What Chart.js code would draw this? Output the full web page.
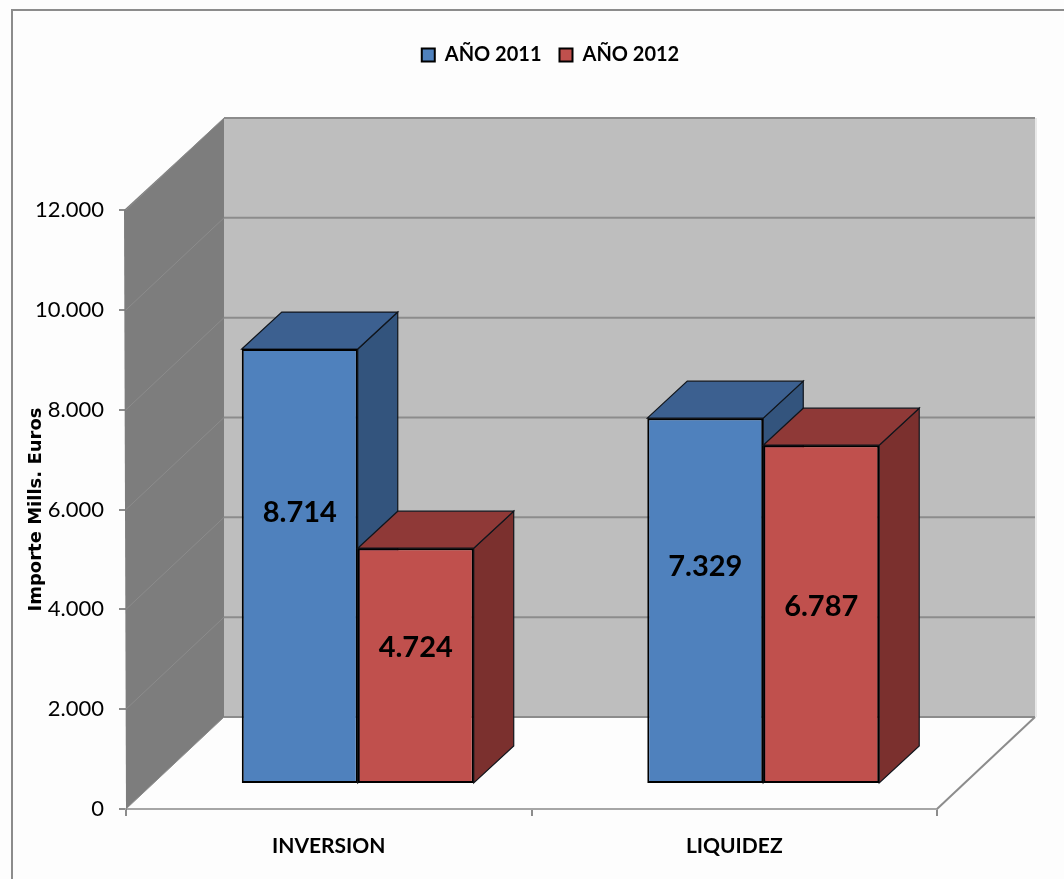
<!DOCTYPE html>
<html>
<head>
<meta charset="utf-8">
<title>Importe Mills. Euros</title>
<script src="https://cdn.jsdelivr.net/npm/chart.js@4"></script>
<style>
html, body { margin: 0; padding: 0; background: #fff; }
canvas { display: block; }
</style>
</head>
<body>
<canvas id="chart_importe" width="1064" height="879"></canvas>
<script>
// data
var categories = ["INVERSION", "LIQUIDEZ"];
var series_names = ["AÑO 2011", "AÑO 2012"];
var values_2011 = [8714, 7329];
var values_2012 = [4724, 6787];
var axis_title = "Importe Mills. Euros";

var TEXT_FONT = "Lato, 'Liberation Sans', sans-serif";

// how far each face of the fake 3D goes
var WALL_DX = 98, WALL_DY = -92;      // back wall
var FRONT_DX = 29, FRONT_DY = -25;    // bars stand part way in on the floor
var BAR_DX = 40, BAR_DY = -37;        // depth of one bar
var face_colors = [
    { top: "#3c6090", side: "#33547d" },
    { top: "#8f3937", side: "#7b302e" }
];
// labels do not sit at the bar centre in the original, px above centre
var label_lift = [[53, 34], [18, 7]];

function FormatThousands(v) {
    return String(v).replace(/\B(?=(\d{3})+(?!\d))/g, ".");
}

function Poly(ctx, pts, fill) {
    ctx.beginPath();
    ctx.moveTo(pts[0][0], pts[0][1]);
    for (var i = 1; i < pts.length; i++) { ctx.lineTo(pts[i][0], pts[i][1]); }
    ctx.closePath();
    ctx.fillStyle = fill;
    ctx.fill();
}

function Line(ctx, x1, y1, x2, y2, color, width) {
    ctx.beginPath();
    ctx.moveTo(x1, y1);
    ctx.lineTo(x2, y2);
    ctx.strokeStyle = color;
    ctx.lineWidth = width;
    ctx.stroke();
}

function DrawWalls(chart) {
    var ctx = chart.ctx, a = chart.chartArea, y = chart.scales.y;
    var l = a.left, r = a.right, t = a.top, b = a.bottom;

    Poly(ctx, [[l + WALL_DX, t + WALL_DY], [r + WALL_DX, t + WALL_DY], [r + WALL_DX, b + WALL_DY], [l + WALL_DX, b + WALL_DY]], "#bebebe");
    Poly(ctx, [[l - 2, t], [l + WALL_DX, t + WALL_DY], [l + WALL_DX, b + WALL_DY], [l, b]], "#7d7d7d");

    y.ticks.forEach(function (tick) {
        var py = y.getPixelForValue(tick.value);
        Line(ctx, l, py, l + WALL_DX, py + WALL_DY, "#8c8c8c", 1);
        Line(ctx, l + WALL_DX, py + WALL_DY, r + WALL_DX, py + WALL_DY, "#8c8c8c", 2);
    });
    Line(ctx, r + WALL_DX + 1, t + WALL_DY, r + WALL_DX + 1, b + WALL_DY, "#d4d4d4", 1);
    Line(ctx, r, b, r + WALL_DX, b + WALL_DY, "#8c8c8c", 2);
}

function DrawBarFaces(ctx, bar, colors) {
    var x0 = bar.x - bar.width / 2, x1 = bar.x + bar.width / 2;
    var side = [[x1, bar.y], [x1 + BAR_DX, bar.y + BAR_DY], [x1 + BAR_DX, bar.base + BAR_DY], [x1, bar.base]];
    var top = [[x0, bar.y], [x0 + BAR_DX, bar.y + BAR_DY], [x1 + BAR_DX, bar.y + BAR_DY], [x1, bar.y]];
    [[side, colors.side], [top, colors.top]].forEach(function (f) {
        Poly(ctx, f[0], f[1]);
        ctx.strokeStyle = "#10151c";
        ctx.lineWidth = 1.2;
        ctx.stroke();
    });
}

var plugin_3d = {
    id: "fake3d",
    beforeInit: function (chart) {
        // leave room under the legend down to the top of the axis
        var fit = chart.legend.fit;
        chart.legend.fit = function () {
            fit.call(this);
            this.height += 135;
        };
    },
    afterLayout: function (chart) {
        // legend is centred over the walls, not over the axis
        chart.legend.left += 69;
        chart.legend.right += 69;
    },
    beforeDraw: function (chart) {
        var ctx = chart.ctx;
        ctx.save();
        ctx.fillStyle = "#fdfdfd";
        ctx.fillRect(0, 0, chart.width, chart.height);
        Line(ctx, 12, 10, 12, chart.height, "#8c8c8c", 2);
        Line(ctx, 11, 10, chart.width, 10, "#8c8c8c", 2);
        ctx.restore();
    },
    beforeDatasetsDraw: function (chart) {
        var ctx = chart.ctx;
        ctx.save();
        DrawWalls(chart);
        ctx.translate(FRONT_DX, FRONT_DY);
        // draw 2011 first so the red bars sit in front of the blue side
        chart.data.datasets.forEach(function (ds, i) {
            var meta = chart.getDatasetMeta(i);
            meta.data.forEach(function (bar) { DrawBarFaces(ctx, bar, face_colors[i]); });
            meta.controller.draw();
        });
        chart.data.datasets.forEach(function (ds, i) {
            chart.getDatasetMeta(i).data.forEach(function (bar, j) {
                ctx.fillStyle = "#000";
                ctx.font = "bold 29px " + TEXT_FONT;
                ctx.textAlign = "center";
                ctx.textBaseline = "middle";
                ctx.fillText(FormatThousands(ds.data[j]), bar.x, (bar.y + bar.base) / 2 - label_lift[i][j]);
            });
        });
        ctx.restore();
        return false;
    }
};

function DrawChart() {
    new Chart(document.getElementById("chart_importe"), {
        type: "bar",
        data: {
            labels: categories,
            datasets: [
                { label: series_names[0], data: values_2011, backgroundColor: "#4f81bd" },
                { label: series_names[1], data: values_2012, backgroundColor: "#c0504d" }
            ]
        },
        options: {
            responsive: false,
            animation: false,
            layout: { padding: { left: 26, right: 127, top: 27, bottom: 20 } },
            datasets: {
                bar: {
                    barPercentage: 1,
                    categoryPercentage: 0.572,
                    borderColor: "#000",
                    borderWidth: 2,
                    borderSkipped: false
                }
            },
            plugins: {
                tooltip: { enabled: false },
                legend: {
                    position: "top",
                    labels: {
                        boxWidth: 13,
                        boxHeight: 13,
                        padding: 18,
                        color: "#000",
                        font: { family: TEXT_FONT, size: 20, weight: "bold" }
                    }
                }
            },
            scales: {
                x: {
                    afterFit: function (s) { s.height = 50; },
                    border: { color: "#a6a6a6", width: 2 },
                    grid: { drawOnChartArea: false, color: "#8c8c8c", lineWidth: 2, tickLength: 7 },
                    ticks: { color: "#000", padding: 18, font: { family: TEXT_FONT, size: 21, weight: "bold" } }
                },
                y: {
                    min: 0,
                    max: 12000,
                    afterFit: function (s) { s.width = 100; },
                    title: {
                        display: true,
                        text: axis_title,
                        color: "#000",
                        padding: 0,
                        font: { family: "'DejaVu Sans', sans-serif", size: 18, weight: "bold" }
                    },
                    border: { color: "#7d7d7d", width: 1 },
                    grid: { drawOnChartArea: false, color: "#8c8c8c", lineWidth: 2, tickLength: 7 },
                    ticks: {
                        stepSize: 2000,
                        color: "#000",
                        padding: 15,
                        font: { family: TEXT_FONT, size: 22 },
                        callback: function (v) { return FormatThousands(v); }
                    }
                }
            }
        },
        plugins: [plugin_3d]
    });
}

DrawChart();
</script>
</body>
</html>
